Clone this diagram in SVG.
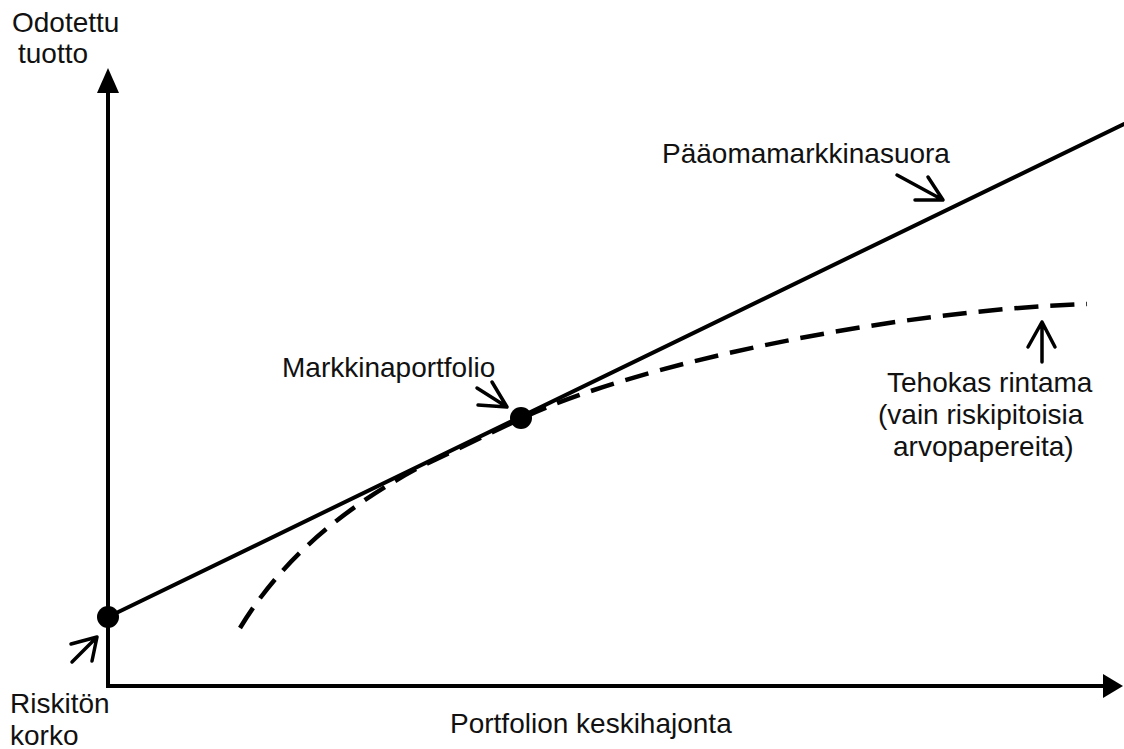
<svg xmlns="http://www.w3.org/2000/svg" width="1124" height="749" viewBox="0 0 1124 749">
<style>
.t{font-family:"Liberation Sans",Arial,sans-serif;font-size:28px;fill:#111}
.ax{fill:none;stroke:#000;stroke-width:4}
.ln{fill:none;stroke:#000;stroke-width:4;stroke-linecap:round}
.dash{fill:none;stroke:#000;stroke-width:4.5;stroke-dasharray:24 12}
.pt{fill:none;stroke:#000;stroke-width:3.5;stroke-linecap:round;stroke-linejoin:round}
</style>
<rect width="1124" height="749" fill="#fff"/>
<g id="axes">
<path class="ax" d="M108,90 L108,686 L1104,686"/>
<polygon points="108,68 97,93 119,93" fill="#000"/>
<polygon points="1123,686 1103,674 1103,698" fill="#000"/>
</g>
<g id="connectors">
<path class="ln" d="M108,617 L1124,124"/>
<path class="dash" d="M240,628 C275,570 330,515 420,467 L520,419 C640,362 900,310 1087,304"/>
<path class="pt" d="M897,175 L943,200 M928,177 L943,200 L915,200"/>
<path class="pt" d="M477,388 L507,407 M492,382 L507,407 L478,405"/>
<path class="pt" d="M1042,362 L1042,322 M1028,347 L1042,322 L1055,347"/>
<path class="pt" d="M72,662 L97,637 M71,644 L97,637 L92,661"/>
</g>
<g id="riskless">
<circle cx="108" cy="617" r="11" fill="#000"/>
</g>
<g id="market">
<circle cx="521" cy="418" r="11" fill="#000"/>
</g>
<g id="labels">
<text class="t" x="12" y="32">Odotettu</text>
<text class="t" x="18" y="63">tuotto</text>
<text class="t" x="662" y="163">Pääomamarkkinasuora</text>
<text class="t" x="282" y="377">Markkinaportfolio</text>
<text class="t" x="887" y="392">Tehokas rintama</text>
<text class="t" x="878" y="424">(vain riskipitoisia</text>
<text class="t" x="893" y="456">arvopapereita)</text>
<text class="t" x="450" y="733">Portfolion keskihajonta</text>
<text class="t" x="10" y="713">Riskitön</text>
<text class="t" x="10" y="745">korko</text>
</g>
</svg>
